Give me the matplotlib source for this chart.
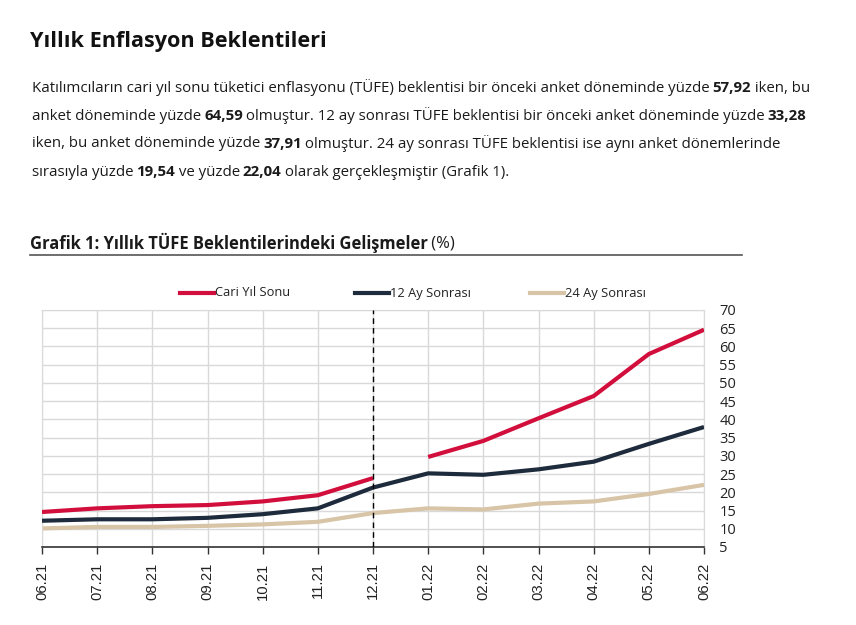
import matplotlib
matplotlib.use("Agg")
import matplotlib.pyplot as plt
import numpy as np

plt.rcParams["font.family"] = ["Open Sans", "DejaVu Sans"]

months = ["06.21", "07.21", "08.21", "09.21", "10.21", "11.21", "12.21",
          "01.22", "02.22", "03.22", "04.22", "05.22", "06.22"]
cari_yil_sonu = [14.6, 15.6, 16.2, 16.5, 17.5, 19.2, 23.9,
                 29.7, 34.1, 40.3, 46.4, 57.92, 64.59]
ay12_sonrasi = [12.2, 12.6, 12.6, 13.0, 14.0, 15.6, 21.3,
                25.2, 24.8, 26.3, 28.4, 33.28, 37.91]
ay24_sonrasi = [10.1, 10.5, 10.5, 10.8, 11.2, 11.9, 14.3,
                15.6, 15.3, 16.9, 17.5, 19.54, 22.04]
y_ticks = list(range(5, 75, 5))

RED = "#D20F3C"
NAVY = "#1E2B3C"
TAN = "#D8C4A6"

paragraph = [
    [("Katılımcıların cari yıl sonu tüketici enflasyonu (TÜFE) beklentisi bir önceki anket döneminde yüzde ", False),
     ("57,92", True), (" iken, bu", False)],
    [("anket döneminde yüzde ", False), ("64,59", True),
     (" olmuştur. 12 ay sonrası TÜFE beklentisi bir önceki anket döneminde yüzde ", False), ("33,28", True)],
    [("iken, bu anket döneminde yüzde ", False), ("37,91", True),
     (" olmuştur. 24 ay sonrası TÜFE beklentisi ise aynı anket dönemlerinde", False)],
    [("sırasıyla yüzde ", False), ("19,54", True), (" ve yüzde ", False), ("22,04", True),
     (" olarak gerçekleşmiştir (Grafik 1).", False)],
]


def draw_runs(fig, renderer, x_px, y_px, runs, size):
    # place text pieces one after another, bold where asked
    W, H = fig.bbox.width, fig.bbox.height
    x = x_px
    for text, bold in runs:
        t = fig.text(x / W, 1 - y_px / H, text, fontsize=size,
                     fontweight="bold" if bold else "normal",
                     va="center", ha="left", color="#1a1a1a")
        x += t.get_window_extent(renderer).width - 0.8


fig = plt.figure(figsize=(8.56, 6.25), dpi=100)
renderer = fig.canvas.get_renderer()

fig.text(30 / 856, 1 - 42 / 625, "Yıllık Enflasyon Beklentileri",
         fontsize=15.6, fontweight="bold", va="center", ha="left", color="#111111")

for i, runs in enumerate(paragraph):
    draw_runs(fig, renderer, 32, 88 + i * 28, runs, 10.8)

draw_runs(fig, renderer, 30, 243,
          [("Grafik 1: Yıllık TÜFE Beklentilerindeki Gelişmeler", True), (" (%)", False)], 11.9)
fig.add_artist(plt.Line2D([30 / 856, 742 / 856], [1 - 255 / 625] * 2,
                          color="#555555", lw=1.2, transform=fig.transFigure))

ax = fig.add_axes([42 / 856, 1 - 547 / 625, (704 - 42) / 856, (547 - 310) / 625])
x = np.arange(len(months))
split = months.index("12.21") + 1

ax.plot(x[:split], cari_yil_sonu[:split], color=RED, lw=3, solid_capstyle="butt", zorder=4)
ax.plot(x[split:], cari_yil_sonu[split:], color=RED, lw=3, solid_capstyle="butt", zorder=4)
ax.plot(x, ay12_sonrasi, color=NAVY, lw=3, solid_capstyle="butt", zorder=3)
ax.plot(x, ay24_sonrasi, color=TAN, lw=3, solid_capstyle="butt", zorder=2)
ax.axvline(months.index("12.21"), color="black", lw=1, ls=(0, (4, 3)), zorder=5)

ax.set_xlim(0, len(months) - 1)
ax.set_ylim(5, 70)
ax.set_yticks(y_ticks)
ax.set_xticks(x)
ax.set_xticklabels(months, rotation=90, fontsize=10.7, color="#222222",
                   family=["Liberation Sans", "DejaVu Sans"])
ax.yaxis.tick_right()
ax.tick_params(axis="y", length=0, labelsize=10.5, labelcolor="#222222", pad=11)
ax.tick_params(axis="x", length=5, width=1, color="#333333", pad=6)
ax.grid(True, color="#d9d9d9", lw=1)
ax.set_axisbelow(True)
for side in ["top", "left", "right"]:
    ax.spines[side].set_color("#d9d9d9")
ax.spines["bottom"].set_color("#333333")
ax.spines["bottom"].set_linewidth(1.2)

legend_items = [("Cari Yıl Sonu", RED, 180), ("12 Ay Sonrası", NAVY, 355), ("24 Ay Sonrası", TAN, 530)]
for label, color, lx in legend_items:
    fig.add_artist(plt.Line2D([lx / 856, (lx + 34) / 856], [1 - 293 / 625] * 2,
                              color=color, lw=3, transform=fig.transFigure))
    fig.text((lx + 35) / 856, 1 - 293 / 625, label, fontsize=9.3,
             va="center", ha="left", color="#222222")

fig.savefig("out.png", dpi=100)
